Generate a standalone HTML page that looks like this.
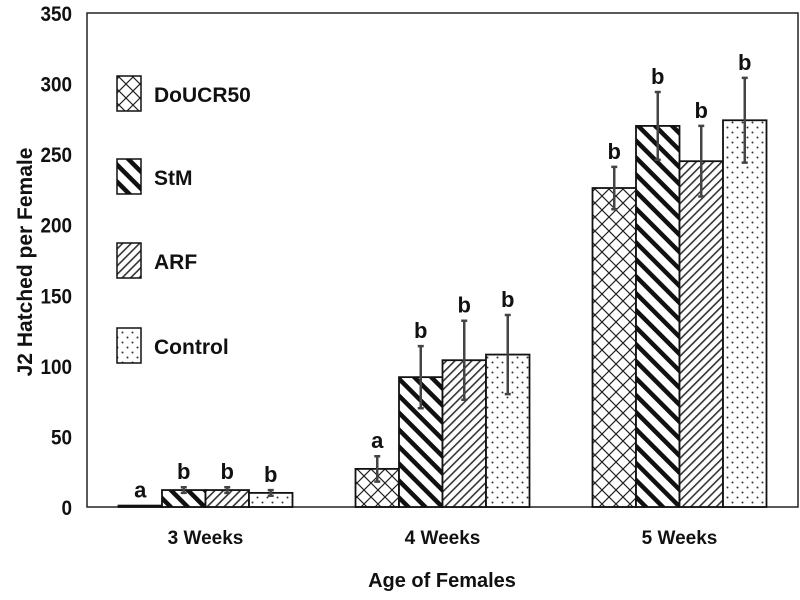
<!DOCTYPE html>
<html><head><meta charset="utf-8"><style>
body{margin:0;background:#fff;}
svg{display:block;font-family:"Liberation Sans",Arial,sans-serif;font-weight:bold;}
</style></head><body>
<svg id="chart" width="800" height="600">
<defs>
<pattern id="p0" patternUnits="userSpaceOnUse" width="14" height="14"><path d="M0,0L14,14M14,0L0,14" stroke="#222" stroke-width="1.2"/></pattern>
<pattern id="p1" patternUnits="userSpaceOnUse" width="12" height="12" patternTransform="rotate(-45)"><rect width="12" height="12" fill="#fff"/><rect x="0" y="0" width="4.5" height="12" fill="#111"/></pattern>
<pattern id="p2" patternUnits="userSpaceOnUse" width="6" height="6" patternTransform="rotate(45)"><rect width="6" height="6" fill="#fff"/><rect x="0" y="0" width="1.6" height="6" fill="#333"/></pattern>
<pattern id="p3" patternUnits="userSpaceOnUse" width="10" height="10"><rect width="10" height="10" fill="#fff"/><circle cx="2.5" cy="2.5" r="1" fill="#333"/><circle cx="7.5" cy="7.5" r="1" fill="#333"/></pattern>
</defs>
<g id="g"></g>
</svg>
<script>
const categories=["3 Weeks","4 Weeks","5 Weeks"];
const seriesNames=["DoUCR50","StM","ARF","Control"];
const doucr50=[1,27,226];
const stm=[12,92,270];
const arf=[12,104,245];
const control=[10,108,274];
const errDoucr50=[0,9,15];
const errStm=[2,22,24];
const errArf=[2,28,25];
const errControl=[2,28,30];
const letters=[["a","b","b","b"],["a","b","b","b"],["b","b","b","b"]];
const yTicks=[0,50,100,150,200,250,300,350];

const series=[doucr50,stm,arf,control];
const errs=[errDoucr50,errStm,errArf,errControl];
const NS="http://www.w3.org/2000/svg";
const g=document.getElementById('g');
const X0=87,X1=798,Y0=507,Y1=13,YMAX=350;
const y=v=>Y0-(v/YMAX)*(Y0-Y1);
const catW=(X1-X0)/categories.length,barW=43.5;
const bx=(c,s)=>X0+catW*c+catW/2-2*barW+s*barW;
function el(t,a,txt){const e=document.createElementNS(NS,t);for(const k in a)e.setAttribute(k,a[k]);if(txt!==undefined)e.textContent=txt;g.appendChild(e);return e;}

let e=el('rect',{x:X0,y:Y1,width:X1-X0,height:Y0-Y1,fill:'none',stroke:'#222','stroke-width':1.5});


yTicks.forEach(t=>{
 const l=el('text',{x:72,y:y(t)+8,'text-anchor':'end','font-size':21,fill:'#111',transform:`translate(72,0) scale(0.9,1) translate(-72,0)`},t);
 
 
});
categories.forEach((c,i)=>{
 const l=el('text',{x:X0+catW*i+catW/2,y:544,'text-anchor':'middle','font-size':19,fill:'#111'},c);
 
 
});
series.forEach((s,si)=>{
 s.forEach((v,ci)=>{
  const x=bx(ci,si);
  const r=el('rect',{x:x,y:y(v),width:barW,height:Y0-y(v),fill:'url(#p'+si+')',stroke:'#111','stroke-width':1.8});
  
  
  const er=errs[si][ci],cx=x+barW/2;
  if(er>0){
   const ln=el('path',{d:`M${cx},${y(v-er)}V${y(v+er)}M${cx-3},${y(v+er)}H${cx+3}M${cx-3},${y(v-er)}H${cx+3}`,stroke:'#444','stroke-width':2.5,fill:'none'});
   
   
  }
  const lt=el('text',{x:cx,y:y(v+er)-8,'text-anchor':'middle','font-size':22,fill:'#111'},letters[ci][si]);
  
  
 });
});
const legY=[76,159,243,328];
seriesNames.forEach((n,i)=>{
 const r=el('rect',{x:117,y:legY[i],width:24,height:35,fill:'url(#p'+i+')',stroke:'#111','stroke-width':1.5});
 
 
 const t=el('text',{x:154,y:legY[i]+26,'font-size':21,fill:'#111'},n);
 
 
});
e=el('text',{x:0,y:0,'text-anchor':'middle','font-size':21,fill:'#111',transform:'translate(32,262) rotate(-90)'},'J2 Hatched per Female');


e=el('text',{x:442,y:587,'text-anchor':'middle','font-size':20,fill:'#111'},'Age of Females');


</script>
</body></html>
